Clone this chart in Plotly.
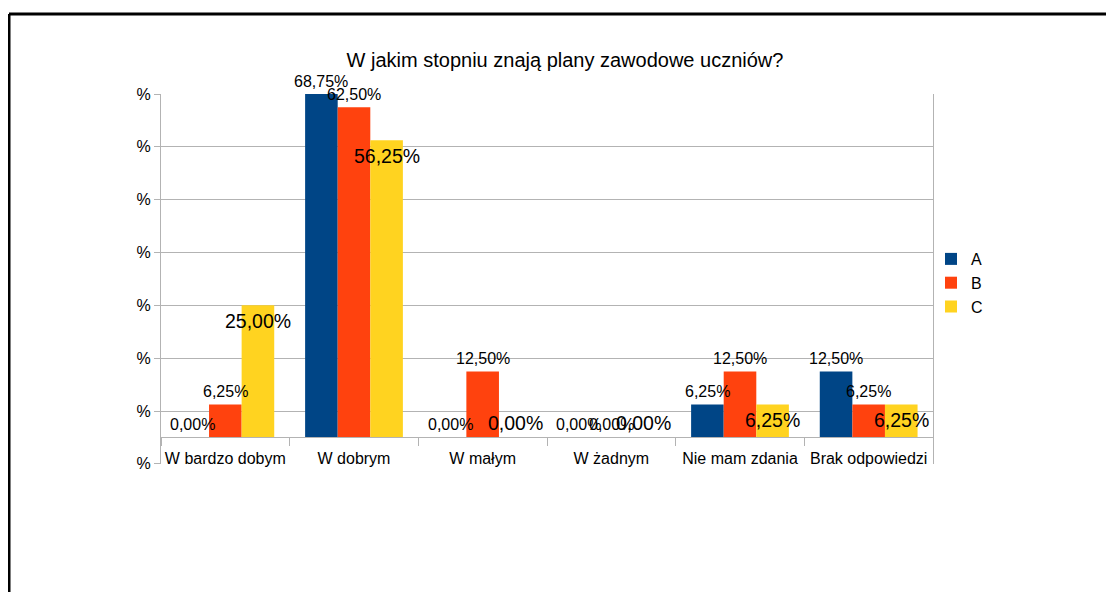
import plotly.graph_objects as go

categories = ["W bardzo dobym", "W dobrym", "W małym", "W żadnym", "Nie mam zdania", "Brak odpowiedzi"]
series_names = ["A", "B", "C"]
a_values = [0, 68.75, 0, 0, 6.25, 12.5]
b_values = [6.25, 62.5, 12.5, 0, 12.5, 6.25]
c_values = [25, 56.25, 0, 0, 6.25, 6.25]
y_ticks = [-5, 5, 15, 25, 35, 45, 55, 65]

colors = ["#004586", "#ff420e", "#ffd320"]
font = "Liberation Sans, Arial, sans-serif"

# page body adds an 8px offset, so the figure coordinates are shifted by it
W, H = 1114, 592
off = 8
ml, mr, mt, mb = 161 - off, W - 933 + off, 94 - off, H - 464 + off
plot_w = W - ml - mr
plot_h = H - mt - mb
ymin, ymax = -5.03, 65
bargap = 0.24

def fmt(v):
    return f"{v:.2f}".replace(".", ",") + "%"

fig = go.Figure()
all_values = [a_values, b_values, c_values]
for name, vals, col in zip(series_names, all_values, colors):
    fig.add_trace(go.Bar(x=categories, y=vals, name=name, marker_color=col,
                         marker_line_width=0))

# data labels
bar_px = plot_w / len(categories) * (1 - bargap) / 3
annotations = []
for i, vals in enumerate(all_values):
    for cat, v in zip(categories, vals):
        if i < 2:
            y = min(v, ymax)
            shift = 13
            size = 16
        else:
            y = v
            shift = -16 if v > 0 else 14
            size = 19.5
        annotations.append(dict(x=cat, y=y, xref="x", yref="y", text=fmt(v),
                                showarrow=False, xshift=(i - 1) * bar_px,
                                yshift=shift, yanchor="middle",
                                font=dict(size=size, color="#000000", family=font)))

# frame lines (left and top), page pixel -> paper
px = lambda p: (p - off - ml) / plot_w
py = lambda p: (H - mb - (p - off)) / plot_h
shapes = [
    dict(type="line", xref="paper", yref="paper", x0=px(9), x1=px(1140), y0=py(14), y1=py(14),
         line=dict(color="#000000", width=3)),
    dict(type="line", xref="paper", yref="paper", x0=px(9), x1=px(9), y0=py(14), y1=py(620),
         line=dict(color="#000000", width=3)),
]

fig.update_layout(
    width=W, height=H,
    margin=dict(l=ml, r=mr, t=mt, b=mb, autoexpand=False),
    paper_bgcolor="white", plot_bgcolor="white",
    barmode="group", bargap=bargap, bargroupgap=0,
    font=dict(family=font, color="#000000", size=16),
    title=dict(text="W jakim stopniu znają plany zawodowe uczniów?", x=(565 - off) / W,
               y=1 - (60 - off) / H, xanchor="center", yanchor="middle",
               font=dict(size=20, family=font, color="#000000")),
    legend=dict(x=px(931), y=py(283), xanchor="left", yanchor="middle", font=dict(size=16),
                bgcolor="rgba(0,0,0,0)", tracegroupgap=0),
    annotations=annotations,
    shapes=shapes,
)
fig.update_xaxes(anchor="free", position=(0 - ymin) / (ymax - ymin), showline=True,
                 linecolor="#b3b3b3", linewidth=1, ticks="outside", tickson="boundaries",
                 ticklen=8, tickcolor="#b3b3b3", showgrid=False, tickangle=0,
                 ticklabelstandoff=6, tickfont=dict(size=16, color="#000000"))
fig.update_yaxes(range=[ymin, ymax], tickvals=y_ticks, ticktext=["%"] * len(y_ticks),
                 showgrid=True, gridcolor="#b3b3b3", gridwidth=1, zeroline=False,
                 showline=True, linecolor="#b3b3b3", mirror=True, ticks="outside",
                 ticklen=6, tickcolor="#b3b3b3", tickfont=dict(size=16, color="#000000"))

fig.write_html("out.html")
